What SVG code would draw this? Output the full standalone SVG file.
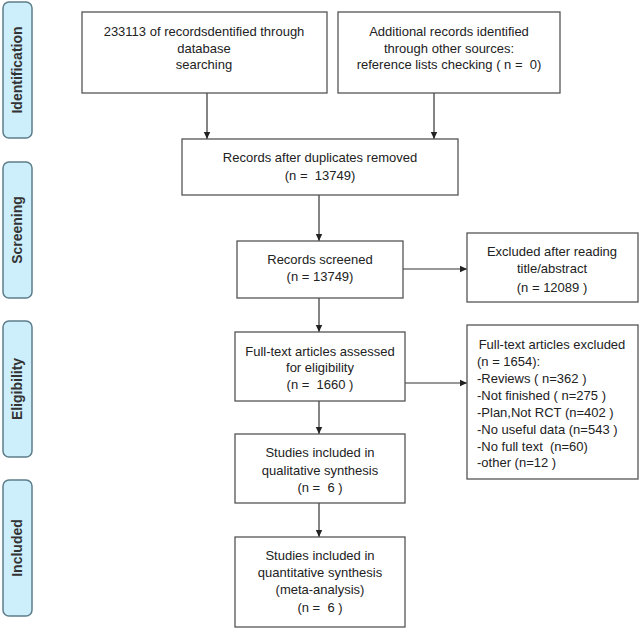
<svg xmlns="http://www.w3.org/2000/svg" width="640" height="630" viewBox="0 0 640 630">
<defs>
<marker id="ah" markerWidth="8" markerHeight="8" refX="7" refY="4" orient="auto" markerUnits="userSpaceOnUse">
<path d="M0,0.8 L7,4 L0,7.2 Z" fill="#222"/>
</marker>
</defs>
<style>
.box{fill:#fff;stroke:#555;stroke-width:1.3}
.lab{fill:#cdeefb;stroke:#5e7d8a;stroke-width:1.5}
text{font-family:"Liberation Sans",Arial,sans-serif;font-size:13px;fill:#222;white-space:pre}
.c{text-anchor:middle}
.side{font-weight:bold;font-size:14px;fill:#333;text-anchor:middle}
.con{stroke:#333;stroke-width:1.2;fill:none;marker-end:url(#ah)}
</style>
<rect width="640" height="630" fill="#fff"/>
<g id="stage-identification"><rect class="lab" x="3" y="2" width="29" height="136" rx="6"/><text class="side" transform="translate(22,70) rotate(-90)">Identification</text></g>
<g id="stage-screening"><rect class="lab" x="3" y="162" width="29" height="136" rx="6"/><text class="side" transform="translate(22,230) rotate(-90)">Screening</text></g>
<g id="stage-eligibility"><rect class="lab" x="3" y="321" width="29" height="136" rx="6"/><text class="side" transform="translate(22,389) rotate(-90)">Eligibility</text></g>
<g id="stage-included"><rect class="lab" x="3" y="480" width="29" height="136" rx="6"/><text class="side" transform="translate(22,548) rotate(-90)">Included</text></g>

<g id="connectors">
<line class="con" x1="207" y1="93" x2="207" y2="139"/>
<line class="con" x1="434" y1="93" x2="434" y2="139"/>
<line class="con" x1="319" y1="195" x2="319" y2="241"/>
<line class="con" x1="403" y1="269" x2="467" y2="269"/>
<line class="con" x1="319" y1="298" x2="319" y2="332"/>
<line class="con" x1="405" y1="383" x2="467" y2="383"/>
<line class="con" x1="319" y1="401" x2="319" y2="434"/>
<line class="con" x1="319" y1="503" x2="319" y2="537"/>
</g>

<g id="db-search"><rect class="box" x="82" y="12" width="245" height="81"/>
<text class="c" x="204" y="36">233113 of recordsdentified through</text>
<text class="c" x="204" y="53">database</text>
<text class="c" x="204" y="69">searching</text></g>

<g id="other-sources"><rect class="box" x="338" y="12" width="222" height="81"/>
<text class="c" x="449" y="36">Additional records identified</text>
<text class="c" x="449" y="53">through other sources:</text>
<text class="c" x="449" y="69">reference lists checking ( n =  0)</text></g>

<g id="dup-removed"><rect class="box" x="182" y="139" width="276" height="56"/>
<text class="c" x="320" y="162">Records after duplicates removed</text>
<text class="c" x="320" y="180">(n =  13749)</text></g>

<g id="screened"><rect class="box" x="237" y="241" width="166" height="57"/>
<text class="c" x="320" y="264">Records screened</text>
<text class="c" x="320" y="281">(n = 13749)</text></g>

<g id="excluded-abstract"><rect class="box" x="467" y="233" width="171" height="69"/>
<text class="c" x="552" y="256">Excluded after reading</text>
<text class="c" x="552" y="273">title/abstract</text>
<text class="c" x="552" y="292">(n = 12089 )</text></g>

<g id="fulltext-assessed"><rect class="box" x="235" y="332" width="170" height="69"/>
<text class="c" x="320" y="356">Full-text articles assessed</text>
<text class="c" x="320" y="372">for eligibility</text>
<text class="c" x="320" y="389">(n =  1660 )</text></g>

<g id="fulltext-excluded"><rect class="box" x="467" y="325" width="171" height="154"/>
<text class="c" x="552" y="349">Full-text articles excluded</text>
<text x="477" y="366">(n = 1654):</text>
<text x="477" y="383">-Reviews ( n=362 )</text>
<text x="477" y="400">-Not finished ( n=275 )</text>
<text x="477" y="417">-Plan,Not RCT (n=402 )</text>
<text x="477" y="434">-No useful data (n=543 )</text>
<text x="477" y="451">-No full text  (n=60)</text>
<text x="477" y="467">-other (n=12 )</text></g>

<g id="qualitative"><rect class="box" x="235" y="434" width="170" height="69"/>
<text class="c" x="320" y="457">Studies included in</text>
<text class="c" x="320" y="475">qualitative synthesis</text>
<text class="c" x="320" y="492">(n =  6 )</text></g>

<g id="quantitative"><rect class="box" x="235" y="537" width="170" height="90"/>
<text class="c" x="320" y="560">Studies included in</text>
<text class="c" x="320" y="577">quantitative synthesis</text>
<text class="c" x="320" y="594">(meta-analysis)</text>
<text class="c" x="320" y="612">(n =  6 )</text></g>
</svg>
